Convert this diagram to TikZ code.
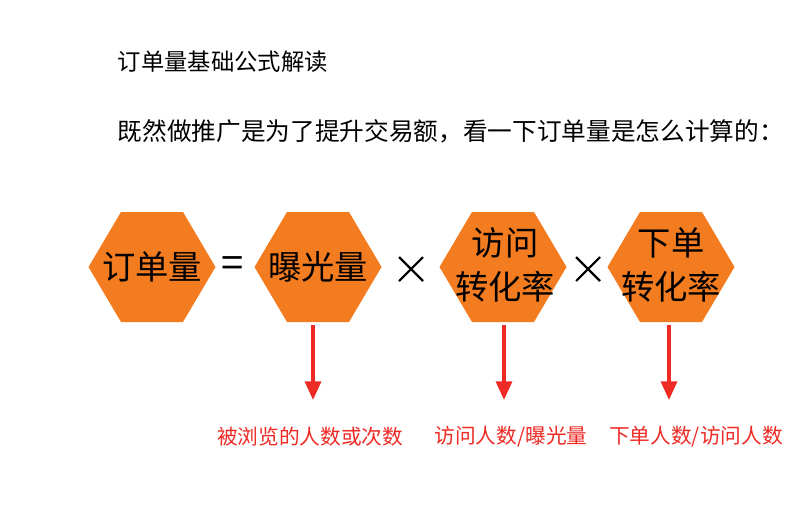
\documentclass[tikz,border=0pt]{standalone}
\usepackage{fontspec}
\setmainfont{Noto Sans CJK SC}
\usetikzlibrary{arrows.meta}
\definecolor{hexor}{HTML}{F47C20}
\definecolor{arrred}{HTML}{EE2A24}
\tikzset{
  hex/.style={fill=hexor,draw=none},
  hextext/.style={font=\fontsize{25}{28}\selectfont,align=center,text=black},
  redarrow/.style={draw=arrred,line width=2.5pt,-{Triangle[length=14pt,width=12pt]}},
  redlabel/.style={text=arrred,font=\fontsize{15.5}{18}\selectfont,anchor=center},
  optext/.style={font=\fontsize{30}{32}\selectfont},
  timesline/.style={draw=black,line width=1.6pt}
}
\newcommand{\hexat}[2]{%
  \fill[hex] (#1-63.5,#2) -- (#1-31,#2-55) -- (#1+31,#2-55) -- (#1+63.5,#2) -- (#1+31,#2+55) -- (#1-31,#2+55) -- cycle;}
\begin{document}
\begin{tikzpicture}[x=0.75pt,y=-0.75pt]
\useasboundingbox (0,0) rectangle (800,511);
\node[anchor=west,font=\fontsize{17.5}{20}\selectfont] (t1) at (113,62) {订单量基础公式解读};
\node[anchor=west,font=\fontsize{18.5}{22}\selectfont] (t2) at (113,131) {既然做推广是为了提升交易额，看一下订单量是怎么计算的：};
\hexat{152}{267}
\hexat{318}{267}
\hexat{503}{267}
\hexat{671}{267}
\node[hextext] (h1) at (152,267) {订单量};
\node[hextext] (h2) at (318,267) {曝光量};
\node[hextext,font=\fontsize{25}{33}\selectfont] (h3) at (505,265) {访问\\转化率};
\node[hextext,font=\fontsize{25}{33}\selectfont] (h4) at (671,265) {下单\\转化率};
\node[optext] (eq) at (233,267) {=};
\coordinate (x1) at (411,269);
\coordinate (x2) at (588,269);
\foreach \c in {x1,x2}{
  \draw[timesline] ([shift={(-12,-12)}]\c) -- ([shift={(12,12)}]\c);
  \draw[timesline] ([shift={(-12,12)}]\c) -- ([shift={(12,-12)}]\c);
}
\coordinate (a2) at (313,325);
\coordinate (a3) at (504,325);
\coordinate (a4) at (669,325);
\node[redlabel] (l2) at (310,437) {被浏览的人数或次数};
\node[redlabel] (l3) at (511,437) {访问人数/曝光量};
\node[redlabel] (l4) at (696,437) {下单人数/访问人数};
\draw[redarrow] (a2) -- ++(0,75);
\draw[redarrow] (a3) -- ++(0,75);
\draw[redarrow] (a4) -- ++(0,75);
\end{tikzpicture}
\end{document}
